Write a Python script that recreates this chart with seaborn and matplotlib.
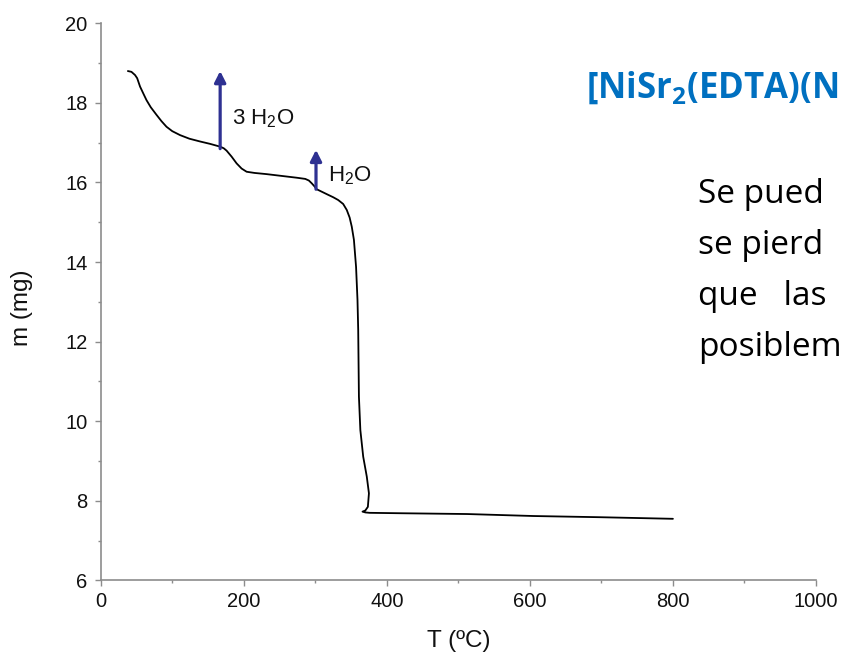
import matplotlib
matplotlib.use("Agg")
import matplotlib.pyplot as plt
from matplotlib.ticker import MultipleLocator
import seaborn as sns
import pandas as pd

# ---- data ----
temperature = [38, 43, 48, 51, 55, 60, 64, 70, 78, 85, 92, 100, 111, 124, 139,
               153, 167, 172, 176, 183, 190, 197, 204, 215, 232, 246, 260, 274,
               286, 291, 295, 299, 302, 310, 318, 325, 332, 339, 344, 348, 351,
               354, 357, 359, 360, 361, 363, 367, 372, 375, 373.5, 370, 366,
               370, 376, 418, 512, 605, 698, 800]
mass = [18.80, 18.78, 18.70, 18.62, 18.41, 18.22, 18.07, 17.89, 17.70, 17.54,
        17.40, 17.29, 17.19, 17.10, 17.03, 16.97, 16.90, 16.86, 16.80, 16.65,
        16.48, 16.35, 16.27, 16.24, 16.21, 16.18, 16.15, 16.12, 16.09, 16.05,
        15.98, 15.90, 15.83, 15.76, 15.69, 15.63, 15.56, 15.46, 15.31, 15.12,
        14.89, 14.56, 13.88, 13.05, 12.30, 10.62, 9.78, 9.11, 8.61, 8.19, 7.85,
        7.76, 7.73, 7.71, 7.70, 7.69, 7.67, 7.62, 7.59, 7.55]

arrow_T = [167, 301]
arrow_from = [16.85, 15.83]
arrow_to = [18.80, 16.82]
arrow_labels = ["3 H$_\\mathrm{2}$O", "H$_\\mathrm{2}$O"]
label_T = [184, 318]
label_m = [17.47, 16.02]

x_label = "T (ºC)"
y_label = "m (mg)"
title_text = "[NiSr$_\\mathbf{2}$(EDTA)(N"
body_lines = ["Se pued", "se pierd", "que   las", "posiblem"]

df = pd.DataFrame({"T": temperature, "m": mass})

sns.set_theme(style="ticks")
plt.rcParams["font.family"] = ["Liberation Sans", "DejaVu Sans"]
plt.rcParams["mathtext.fontset"] = "custom"
plt.rcParams["mathtext.rm"] = "Liberation Sans"
plt.rcParams["mathtext.bf"] = "Open Sans:bold"

fig = plt.figure(figsize=(8.42, 6.56), dpi=100)
ax = fig.add_axes([0.1196, 0.1151, 0.8495, 0.8494])

sns.lineplot(data=df, x="T", y="m", sort=False, estimator=None,
             color="black", linewidth=1.3, ax=ax)

arrow_color = "#2E3192"
for t, a, b in zip(arrow_T, arrow_from, arrow_to):
    ax.annotate("", xy=(t, b), xytext=(t, a),
                arrowprops=dict(arrowstyle="-|>,head_length=0.55,head_width=0.28",
                                color=arrow_color, lw=2.3, shrinkA=0, shrinkB=0))
for t, mm, s in zip(label_T, label_m, arrow_labels):
    ax.text(t, mm, s, fontsize=16, color="#111111", va="baseline", ha="left")

ax.set_xlim(0, 1000)
ax.set_ylim(6, 20)
ax.xaxis.set_major_locator(MultipleLocator(200))
ax.xaxis.set_minor_locator(MultipleLocator(100))
ax.yaxis.set_major_locator(MultipleLocator(2))
ax.yaxis.set_minor_locator(MultipleLocator(1))

sns.despine(ax=ax)
spine_color = "#8c8c8c"
for sp in ["left", "bottom"]:
    ax.spines[sp].set_color(spine_color)
    ax.spines[sp].set_linewidth(1.2)
ax.tick_params(which="major", length=4, width=1.0, color=spine_color,
               labelsize=14.5, labelcolor="#111111")
ax.tick_params(which="minor", length=2.5, width=1.0, color=spine_color)
ax.tick_params(axis="y", which="major", pad=5.5)
ax.tick_params(axis="x", which="major", pad=4)

ax.set_xlabel(x_label, fontsize=17.5, color="#111111")
ax.set_ylabel(y_label, fontsize=17.5, color="#111111")
ax.xaxis.set_label_coords(0.5, -0.088)
ax.yaxis.set_label_coords(-0.095, 0.49)

fig.text(0.696, 1 - 97.7 / 656, title_text, fontsize=25, fontweight="bold",
         family="Open Sans", color="#0070C0", va="baseline", ha="left",
         math_fontfamily="custom")
baselines = [203, 254, 305, 356]
for line, yb in zip(body_lines, baselines):
    fig.text(0.829, 1 - yb / 656, line, fontsize=24, family="Open Sans",
             color="black", va="baseline", ha="left")

fig.savefig("out.png", dpi=100)
